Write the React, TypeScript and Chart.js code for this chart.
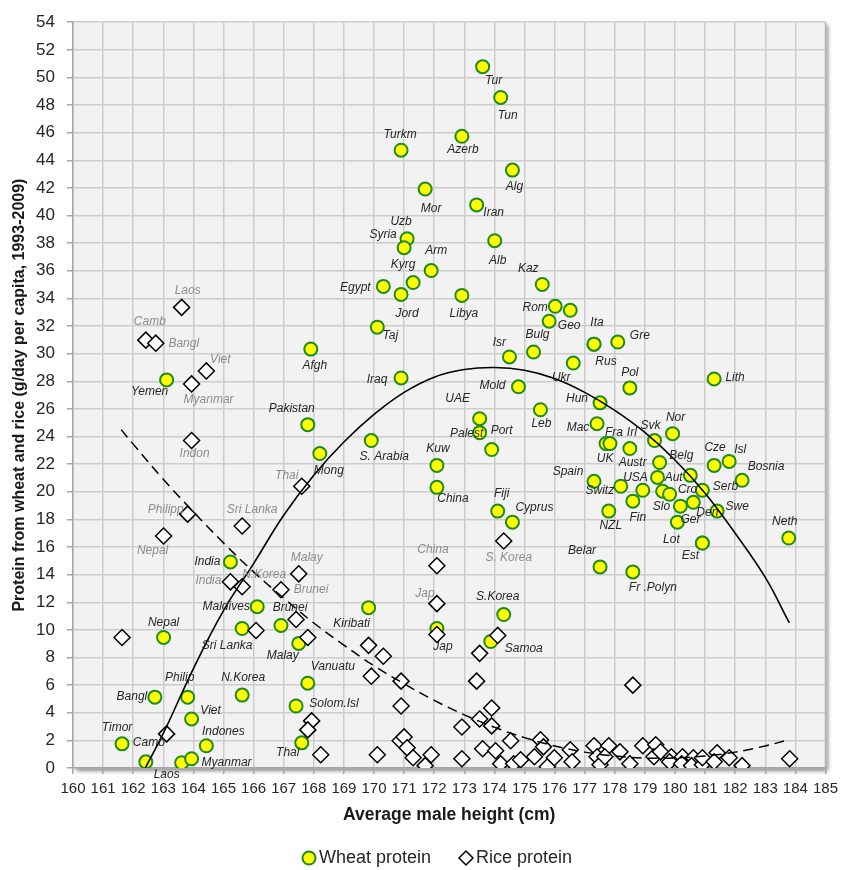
import React, { useEffect, useRef } from "react";
import { Chart, registerables } from "chart.js";

Chart.register(...registerables);

// ---------------- DATA ----------------
const xMin = 160;
const xMax = 185;
const yMin = 0;
const yMax = 54;

const wheatCountries = [
  "Tur", "Tun", "Azerb", "Turkm", "Alg", "Mor", "Iran", "Uzb", "Syria", "Alb",
  "Arm", "Kyrg", "Egypt", "Jord", "Libya", "Kaz", "Rom", "", "Geo", "Taj",
  "Afgh", "Yemen", "Iraq", "Isr", "Bulg", "Ita", "Rus", "Ukr", "Gre", "Mold",
  "Pol", "Lith", "UAE", "Palest", "Port", "Leb", "Hun", "Mac", "UK", "Fra",
  "Irl", "Svk", "Nor", "Austr", "USA", "Belg", "Aut", "Cro", "Switz", "Spain",
  "", "Fin", "NZL", "Slo", "Ger", "Den", "Swe", "Serb", "Cze", "Isl",
  "Bosnia", "Lot", "Est", "Neth", "Belar", "Fr .Polyn", "Fiji", "Cyprus", "Kuw", "China",
  "S. Arabia", "Pakistan", "Mong", "S.Korea", "Samoa", "Jap", "Kiribati", "India", "Maldives", "Brunei",
  "Sri Lanka", "Malay", "Vanuatu", "Solom.Isl", "Thai", "Nepal", "N.Korea", "Bangl", "Philip", "Viet",
  "Indones", "Timor", "Camb", "Laos", "Myanmar",
];
const wheatHeight = [
  173.61, 174.21, 172.92, 170.9, 174.6, 171.7, 173.41, 171.1, 171.0, 174.01,
  171.9, 171.3, 170.31, 170.9, 172.92, 175.59, 176.02, 176.52, 175.82, 170.11,
  167.9, 163.11, 170.9, 174.5, 175.3, 177.31, 177.31, 176.62, 178.1, 174.8,
  178.5, 181.3, 173.51, 173.51, 173.91, 175.53, 177.51, 177.41, 177.71, 177.84,
  178.5, 179.32, 179.92, 179.49, 179.42, 180.51, 179.59, 179.82, 178.2, 177.31,
  178.93, 178.6, 177.8, 180.18, 180.08, 180.61, 181.4, 180.91, 181.3, 181.8,
  182.23, 180.91, 180.91, 183.78, 177.51, 178.6, 174.11, 174.6, 172.09, 172.09,
  169.91, 167.8, 168.2, 174.31, 173.88, 172.09, 169.82, 165.23, 166.12, 166.91,
  165.62, 167.5, 167.8, 167.41, 167.6, 163.01, 165.62, 162.72, 163.81, 163.94,
  164.43, 161.63, 162.42, 163.61, 163.94,
];
const wheatProtein = [
  50.78, 48.55, 45.74, 44.73, 43.29, 41.92, 40.77, 38.32, 37.67, 38.18,
  36.02, 35.15, 34.87, 34.29, 34.22, 35.01, 33.43, 33.14, 32.35, 31.92,
  30.33, 28.1, 28.24, 29.76, 30.12, 30.69, 30.69, 29.32, 30.84, 27.6,
  27.52, 28.17, 25.29, 24.28, 23.06, 25.94, 26.44, 24.93, 23.49, 23.49,
  23.13, 23.71, 24.21, 22.12, 21.04, 21.19, 20.04, 19.82, 20.4, 20.76,
  20.11, 19.32, 18.6, 18.96, 17.8, 19.24, 18.6, 20.11, 21.91, 22.2,
  20.83, 16.29, 16.29, 16.65, 14.56, 14.2, 18.6, 17.8, 21.91, 20.32,
  23.71, 24.86, 22.77, 11.11, 9.16, 10.1, 11.61, 14.92, 11.68, 10.32,
  10.1, 9.02, 6.14, 4.49, 1.82, 9.45, 5.28, 5.13, 5.13, 3.55,
  1.61, 1.75, 0.45, 0.38, 0.67,
];

const riceCountries = [
  "Laos", "Camb", "Bangl", "Viet", "Myanmar", "Indon", "Thai", "Philipp", "Sri Lanka", "Nepal",
  "India", "N.Korea", "Malay", "Brunei", "China", "S. Korea", "Jap",
];
const riceHeight = [
  163.61, 162.42, 162.75, 164.43, 163.94, 163.94, 167.6, 163.81, 165.62, 163.01,
  165.23, 165.62, 167.5, 166.91, 172.09, 174.31, 172.09,
  167.41, 166.08, 167.8, 161.63, 167.93, 167.8, 163.11, 168.23, 172.09, 174.11,
  169.82, 170.31, 173.51, 169.91, 170.9, 173.41, 170.9, 173.91, 173.51, 172.92,
  173.91, 170.87, 171.0, 171.1, 171.3, 171.7, 171.9, 170.11, 172.92, 173.61,
  174.04, 174.54, 174.21, 174.64, 174.87, 175.33, 175.53, 175.63, 175.76, 175.99,
  176.52, 176.58, 177.31, 177.41, 177.51, 177.8, 177.67, 178.17, 178.5, 178.6,
  178.93, 179.36, 179.3, 179.52, 179.88, 179.82, 180.25, 180.22, 180.61, 180.55,
  180.91, 180.91, 181.4, 181.3, 181.8, 182.23, 183.81,
];
const riceProtein = [
  33.35, 30.98, 30.76, 28.75, 27.81, 23.71, 20.4, 18.38, 17.52, 16.8,
  13.48, 13.12, 14.06, 12.91, 14.64, 16.44, 11.9,
  10.75, 9.96, 9.45, 9.45, 3.41, 2.76, 2.47, 0.96, 9.67, 9.6,
  8.88, 8.09, 8.3, 6.65, 6.29, 6.29, 4.49, 4.34, 3.55, 2.97,
  3.05, 1.97, 2.25, 1.46, 0.74, 0.17, 0.96, 0.96, 0.67, 1.39,
  1.25, 1.97, 0.31, 0.31, 0.6, 0.81, 2.04, 1.53, 0.09, 0.74,
  1.32, 0.45, 1.61, 0.81, 0.24, 1.61, 0.81, 1.17, 0.31, 6.0,
  1.61, 1.68, 0.81, 1.17, 0.81, 0.45, 0.81, 0.31, 0.74, 0.17,
  0.24, 0.74, 1.1, 0.45, 0.74, 0.17, 0.67,
];

// trend lines
const wheatTrendHeight = [162.4, 163, 164, 165, 166, 167, 168, 169, 170, 171, 172, 173, 174, 175, 176, 177, 178, 179, 180, 181, 182, 183, 183.8];
const wheatTrendProtein = [0, 2.5, 7.2, 11.4, 14.8, 18.3, 21.2, 23.6, 25.6, 27.2, 28.3, 28.85, 29.0, 28.8, 28.2, 27.2, 25.9, 24.3, 22.3, 19.9, 17.0, 13.8, 10.5];
const riceTrendHeight = [161.6, 162, 163, 164, 165, 166, 167, 168, 169, 170, 171, 172, 173, 174, 175, 176, 177, 178, 179, 180, 181, 182, 183, 183.8];
const riceTrendProtein = [24.5, 23.45, 20.9, 18.55, 16.3, 14.2, 12.3, 10.5, 8.9, 7.4, 6.1, 4.9, 3.85, 2.95, 2.2, 1.6, 1.15, 0.87, 0.72, 0.72, 0.87, 1.15, 1.6, 2.05];

const wheatLabel = "Wheat protein";
const riceLabel = "Rice protein";
const xTitle = "Average male height (cm)";
const yTitle = "Protein from wheat and rice (g/day per capita, 1993-2009)";

// ---------------- LAYOUT (label offsets in px) ----------------
const wheatLabelOffsets: [number, number][] = [
  [11, 14], [7, 18], [1, 13], [-1, -16], [2, 17], [6, 20], [17, 8], [-6, -17], [-21, -13], [3, 20],
  [5, -20], [-10, -18], [-28, 1], [6, 19], [2, 18], [-14, -16], [-20, 1], [0, 0], [20, 4], [13, 9],
  [4, 17], [-17, 12], [-24, 2], [-10, -14], [4, -17], [3, -21], [12, 18], [-12, 15], [22, -6], [-26, -1],
  [0, -15], [21, -1], [-22, -20], [-13, 1], [10, -19], [1, 14], [-23, -4], [-19, 4], [-1, 15], [4, -11],
  [2, -16], [-4, -15], [3, -16], [-27, 0], [-22, 0], [-9, -20], [11, -14], [18, -5], [-21, 4], [-26, -10],
  [0, 0], [5, 16], [2, 15], [-19, 1], [13, -3], [14, 10], [20, -4], [23, -4], [1, -18], [11, -12],
  [24, -14], [-31, -3], [-12, 13], [-4, -16], [-18, -16], [20, 16], [4, -17], [22, -15], [1, -17], [16, 11],
  [13, 16], [-16, -16], [9, 17], [-6, -18], [33, 7], [6, 18], [-17, 16], [-23, 0], [-31, 0], [9, -18],
  [-15, 17], [-16, 12], [25, -17], [38, -2], [-14, 10], [0, -15], [1, -17], [-23, 0], [-8, -19], [19, -8],
  [17, -14], [-5, -16], [3, -19], [-15, 12], [35, 4],
];
const riceLabelOffsets: [number, number][] = [
  [6, -17], [4, -18], [28, 0], [14, -11], [17, 16], [3, 13], [-15, -11], [-22, -4], [10, -16], [-11, 15],
  [-22, -1], [22, -12], [8, -16], [30, 0], [-4, -16], [5, 17], [-12, -10],
];

const FONT = '"Liberation Sans", Arial, sans-serif';
const GREEN = "#1F8A1F";

function hasFont(name: string): boolean {
  const c = document.createElement("canvas").getContext("2d");
  if (!c) return false;
  c.font = "20px monospace";
  const a = c.measureText("160 abcdefgWM").width;
  c.font = `20px "${name}", monospace`;
  const b = c.measureText("160 abcdefgWM").width;
  return Math.abs(a - b) > 0.5;
}

const backgroundPlugin = {
  id: "plotBackground",
  beforeDraw(chart: any) {
    const { ctx, chartArea } = chart;
    const { left, top, right, bottom } = chartArea;
    ctx.save();
    ctx.fillStyle = "#FFFFFF";
    ctx.fillRect(0, 0, chart.width, chart.height);
    ctx.shadowColor = "rgba(0,0,0,0.45)";
    ctx.shadowBlur = 4;
    ctx.shadowOffsetX = 3;
    ctx.shadowOffsetY = 3;
    ctx.fillStyle = "#F2F2F2";
    ctx.fillRect(left, top, right - left, bottom - top);
    ctx.restore();
  },
  afterDatasetsDraw(chart: any) {
    const { ctx, chartArea } = chart;
    ctx.save();
    ctx.strokeStyle = "#B5B5B5";
    ctx.lineWidth = 1.5;
    ctx.beginPath();
    ctx.moveTo(chartArea.right, chartArea.top);
    ctx.lineTo(chartArea.right, chartArea.bottom);
    ctx.stroke();
    ctx.restore();
  },
};

const labelPlugin = {
  id: "pointLabels",
  afterDatasetsDraw(chart: any) {
    const ctx = chart.ctx;
    ctx.save();
    ctx.font = `italic 12px ${FONT}`;
    ctx.textAlign = "center";
    ctx.textBaseline = "middle";
    const groups: [number, string[], [number, number][], string][] = [
      [0, wheatCountries, wheatLabelOffsets, "#262626"],
      [1, riceCountries, riceLabelOffsets, "#8C8C8C"],
    ];
    groups.forEach(([idx, names, offs, color]) => {
      const meta = chart.getDatasetMeta(idx);
      meta.data.forEach((el: any, i: number) => {
        const t = names[i];
        if (!t) return;
        const off = offs[i] || [0, 0];
        ctx.fillStyle = color;
        ctx.fillText(t, el.x + off[0], el.y + off[1]);
      });
    });
    ctx.restore();
  },
};

const legendPlugin = {
  id: "bottomLegend",
  afterDraw(chart: any) {
    const { ctx, chartArea } = chart;
    const cy = chartArea.bottom + 90;
    const x0 = chartArea.left + 236;
    ctx.save();
    ctx.beginPath();
    ctx.arc(x0, cy, 6.5, 0, Math.PI * 2);
    ctx.fillStyle = "#FFFF00";
    ctx.fill();
    ctx.lineWidth = 2;
    ctx.strokeStyle = GREEN;
    ctx.stroke();
    ctx.font = `18px ${FONT}`;
    ctx.fillStyle = "#262626";
    ctx.textBaseline = "middle";
    ctx.textAlign = "left";
    ctx.fillText(wheatLabel, x0 + 10, cy);
    const x1 = x0 + 157;
    ctx.beginPath();
    ctx.moveTo(x1 - 7, cy);
    ctx.lineTo(x1, cy - 7);
    ctx.lineTo(x1 + 7, cy);
    ctx.lineTo(x1, cy + 7);
    ctx.closePath();
    ctx.fillStyle = "#FFFFFF";
    ctx.fill();
    ctx.lineWidth = 1.5;
    ctx.strokeStyle = "#000000";
    ctx.stroke();
    ctx.fillStyle = "#262626";
    ctx.fillText(riceLabel, x1 + 10, cy);
    ctx.restore();
  },
};

export default function App() {
  const canvasRef = useRef<HTMLCanvasElement | null>(null);

  useEffect(() => {
    if (!canvasRef.current) return;
    const narrow = hasFont("Liberation Sans Narrow");
    const xTickFont = narrow
      ? { family: '"Liberation Sans Narrow", "Liberation Sans", sans-serif', size: 17 }
      : { family: FONT, size: 15 };

    const chart = new Chart(canvasRef.current, {
      type: "scatter",
      data: {
        datasets: [
          {
            label: wheatLabel,
            data: wheatHeight.map((x, i) => ({ x, y: wheatProtein[i] })),
            pointStyle: "circle",
            pointRadius: 6.5,
            pointBackgroundColor: "#FFFF00",
            pointBorderColor: GREEN,
            pointBorderWidth: 2,
            order: 3,
          },
          {
            label: riceLabel,
            data: riceHeight.map((x, i) => ({ x, y: riceProtein[i] })),
            pointStyle: "rectRot",
            pointRadius: 8,
            pointBackgroundColor: "#FFFFFF",
            pointBorderColor: "#000000",
            pointBorderWidth: 1.5,
            order: 2,
          },
          {
            label: "Wheat trend",
            data: wheatTrendHeight.map((x, i) => ({ x, y: wheatTrendProtein[i] })),
            showLine: true,
            pointRadius: 0,
            borderColor: "#000000",
            borderWidth: 1.6,
            tension: 0.4,
            fill: false,
            order: 1,
          },
          {
            label: "Rice trend",
            data: riceTrendHeight.map((x, i) => ({ x, y: riceTrendProtein[i] })),
            showLine: true,
            pointRadius: 0,
            borderColor: "#000000",
            borderWidth: 1.5,
            borderDash: [10, 6],
            tension: 0.4,
            fill: false,
            order: 0,
          },
        ],
      },
      options: {
        animation: false,
        responsive: false,
        events: [],
        layout: { padding: { left: 0, right: 14, top: 18, bottom: 0 } },
        plugins: {
          legend: { display: false },
          tooltip: { enabled: false },
        },
        scales: {
          x: {
            type: "linear",
            min: xMin,
            max: xMax,
            afterFit: (scale: any) => {
              scale.height = 102;
            },
            ticks: {
              stepSize: 1,
              autoSkip: false,
              maxRotation: 0,
              padding: 6,
              color: "#262626",
              font: xTickFont,
            },
            grid: { color: "#CCCCCC", lineWidth: 1.5, tickLength: 6, tickColor: "#A6A6A6" },
            border: { color: "#A6A6A6", width: 1.5 },
            title: {
              display: true,
              text: xTitle,
              color: "#1A1A1A",
              font: { family: FONT, size: 17.5, weight: "bold" },
              padding: { top: 4, bottom: 44 },
            },
          },
          y: {
            type: "linear",
            min: yMin,
            max: yMax,
            afterFit: (scale: any) => {
              scale.width = 73;
            },
            ticks: {
              stepSize: 2,
              autoSkip: false,
              padding: 12,
              color: "#262626",
              font: { family: FONT, size: 17 },
            },
            grid: { color: "#CCCCCC", lineWidth: 1.5, tickLength: 6, tickColor: "#A6A6A6" },
            border: { color: "#A6A6A6", width: 1.5 },
            title: {
              display: true,
              text: yTitle,
              color: "#1A1A1A",
              font: { family: FONT, size: 16, weight: "bold" },
              padding: { top: 10, bottom: 0 },
            },
          },
        },
      },
      plugins: [backgroundPlugin, labelPlugin, legendPlugin],
    });
    return () => chart.destroy();
  }, []);

  return (
    <div style={{ position: "fixed", left: 0, top: 0, width: 844, height: 870, background: "#fff" }}>
      <canvas ref={canvasRef} width={844} height={870} style={{ display: "block" }} />
    </div>
  );
}
